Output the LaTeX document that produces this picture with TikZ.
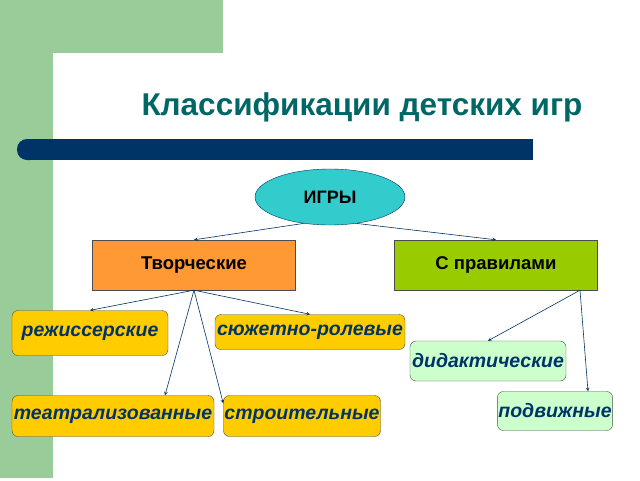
\documentclass[tikz,border=0pt]{standalone}
\usepackage{fontspec}
\setmainfont{Liberation Sans}
\usetikzlibrary{shapes.geometric}
\definecolor{bggreen}{HTML}{99CC99}
\definecolor{barblue}{HTML}{003366}
\definecolor{titleteal}{HTML}{006666}
\definecolor{igrycyan}{HTML}{33CCCC}
\definecolor{tvorange}{HTML}{FF9933}
\definecolor{prgreen}{HTML}{99CC00}
\definecolor{leafyellow}{HTML}{FFCC00}
\definecolor{leafmint}{HTML}{CCFFCC}
\tikzset{
  mainbox/.style={draw=black!70, fill=#1, minimum width=203pt, minimum height=50pt, font=\bfseries\fontsize{18.5}{22}\selectfont},
  leafbox/.style={draw=black!70, fill=#1, rounded corners=6pt, inner sep=1pt, minimum height=41pt,
    text=barblue, font=\bfseries\itshape\fontsize{19.5}{23}\selectfont},
  link/.style={->, >=stealth, barblue, semithick}
}
\begin{document}
\begin{tikzpicture}[x=1pt,y=-1pt]
    \useasboundingbox (0,0) rectangle (640,480);
    % Background
    \fill[bggreen] (0,0) rectangle (223,53);
    \fill[bggreen] (0,0) rectangle (53,478);
    \fill[white, rounded corners=12pt] (53,53) rectangle (640,482);
    \fill[white] (100,53) rectangle (640,482);
    \fill[barblue, rounded corners=10pt] (17,139) rectangle (40,160);
    \fill[barblue] (30,139) rectangle (533,160);
    
    % Title
    \node[text=titleteal, font=\bfseries\fontsize{31.5}{36}\selectfont] (title) at (362,107) {Классификации детских игр};
    
    % Root
    \node[ellipse, draw=barblue, fill=igrycyan, minimum width=150pt, minimum height=56pt, font=\bfseries\fontsize{18}{21}\selectfont] (igry) at (330,197) {ИГРЫ};
    
    % Groups
    \node[mainbox=tvorange] (tvor) at (194,265) {Творческие};
    \node[mainbox=prgreen] (prav) at (496,265) {С правилами};
    
    % Leaves
    \node[leafbox=leafyellow, minimum width=156pt, minimum height=45pt] (rezh) at (90,333) {режиссерские};
    \node[leafbox=leafyellow, minimum width=190pt, minimum height=35pt] (syuzh) at (310,332) {сюжетно-ролевые};
    \node[leafbox=leafyellow, minimum width=202pt] (teatr) at (113,416) {театрализованные};
    \node[leafbox=leafyellow, minimum width=157pt] (stroi) at (302,416) {строительные};
    \node[leafbox=leafmint, minimum width=156pt, minimum height=40pt] (didakt) at (488,361) {дидактические};
    \node[leafbox=leafmint, minimum width=115pt, minimum height=39pt] (podv) at (555,411) {подвижные};
    
    % Links
    \draw[link] (igry.225) -- (tvor.north);
    \draw[link] (igry.-45) -- (prav.north);
    \draw[link] (tvor.south) -- (rezh.north);
    \draw[link] (tvor.south) -- (syuzh.north);
    \draw[link] (tvor.south) -- ([xshift=52pt]teatr.north);
    \draw[link] (tvor.south) -- ([yshift=-8pt]stroi.north west);
    \draw[link] ([xshift=84pt]prav.south) -- (didakt.north);
    \draw[link] ([xshift=84pt]prav.south) -- ([xshift=33pt]podv.north);
\end{tikzpicture}
\end{document}
